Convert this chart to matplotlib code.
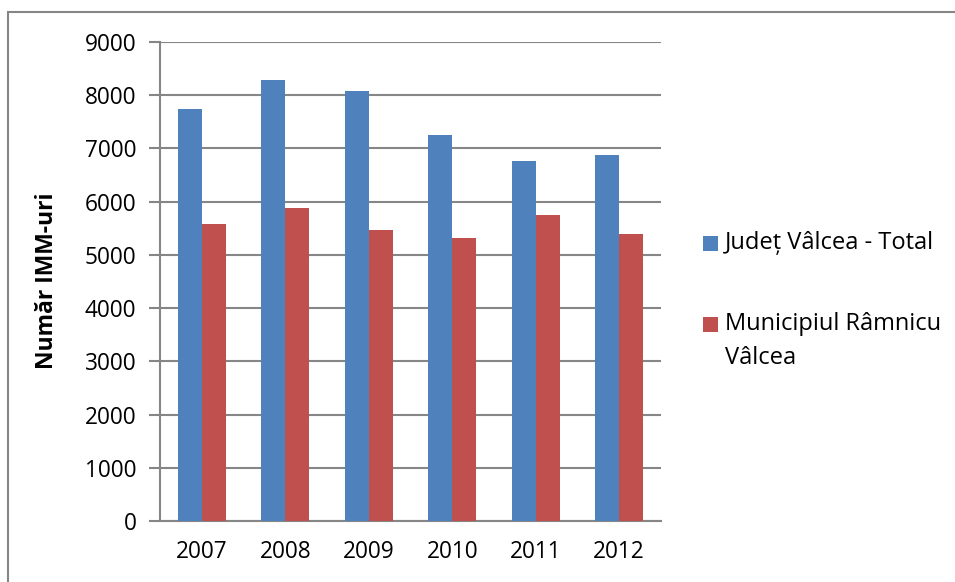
import numpy as np
import matplotlib
matplotlib.use("Agg")
import matplotlib.pyplot as plt
from matplotlib.patches import Rectangle

plt.rcParams['font.family'] = ['Open Sans', 'DejaVu Sans']

# date
ani = ['2007', '2008', '2009', '2010', '2011', '2012']
judet_total = [7740, 8290, 8070, 7245, 6755, 6875]
municipiu = [5575, 5885, 5465, 5315, 5750, 5395]
serii = ['Județ Vâlcea - Total', 'Municipiul Râmnicu\nVâlcea']

albastru = '#4F81BD'
rosu = '#C0504D'
gri = '#868686'

fig = plt.figure(figsize=(9.55, 5.82), dpi=100)
ax = fig.add_axes([160/955, 1 - 521/582, (661-160)/955, (521-42)/582])

x = np.arange(len(ani))
w = 1/3.5
ax.bar(x - w/2, judet_total, w, color=albastru, zorder=3)
ax.bar(x + w/2, municipiu, w, color=rosu, zorder=3)

ax.set_xlim(-0.5, len(ani) - 0.5)
ax.set_ylim(0, 9000)
ax.set_yticks(range(0, 9001, 1000))
ax.set_xticks(x)
ax.set_xticklabels(ani)
ax.tick_params(axis='y', length=8, width=1.5, color=gri, labelsize=16.3, pad=9)
ax.tick_params(axis='x', length=0, labelsize=16.3, pad=14)
ax.yaxis.grid(True, color=gri, linewidth=1.5, zorder=0)

for s in ['top', 'right']:
    ax.spines[s].set_visible(False)
for s in ['left', 'bottom']:
    ax.spines[s].set_color(gri)
    ax.spines[s].set_linewidth(1.5)

ax.set_ylabel('Număr IMM-uri', fontsize=16.5, fontweight='bold')
ax.yaxis.set_label_coords(59/955, 1 - 281/582, transform=fig.transFigure)

# legenda, desenata de mana ca sa stea patratul pe primul rand
for culoare, y_patrat, eticheta, y_text in [(albastru, 244, serii[0], 243),
                                            (rosu, 325, serii[1], 341)]:
    fig.patches.append(Rectangle((703, 582 - y_patrat - 7), 15, 15, transform=None,
                                 facecolor=culoare, edgecolor='none'))
    fig.text(725/955, 1 - y_text/582, eticheta, fontsize=17, va='center',
             ha='left', linespacing=1.6)

# chenarul graficului
fig.patches.append(Rectangle((8, -20), 1000, 582 - 12 + 20, transform=None,
                             fill=False, edgecolor=gri, linewidth=1.5))

fig.savefig('out.png', dpi=100)
